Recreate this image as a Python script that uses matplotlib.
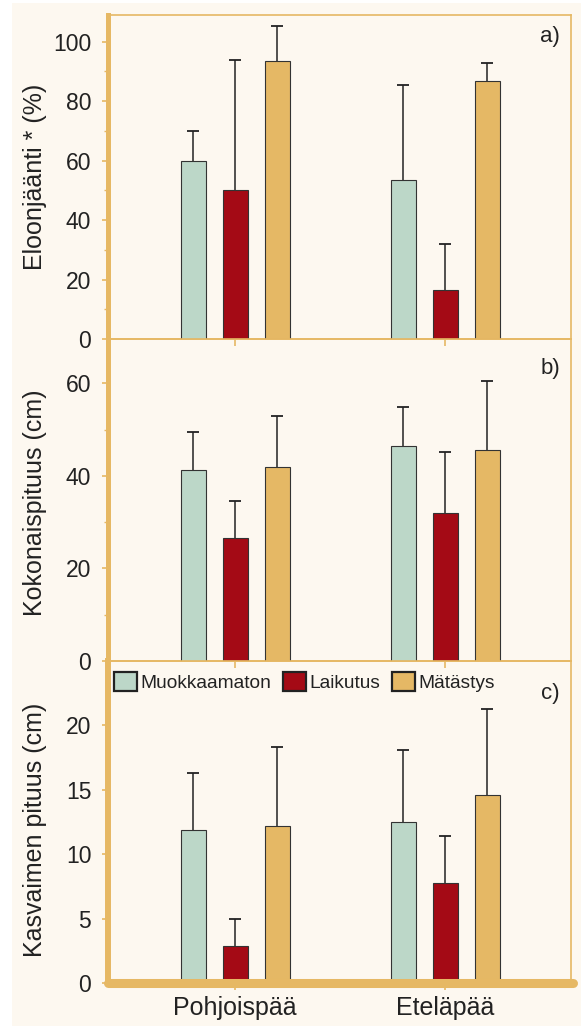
import matplotlib
matplotlib.use("Agg")
import matplotlib.pyplot as plt
import numpy as np
from matplotlib.patches import Rectangle
from matplotlib.ticker import MultipleLocator, FixedLocator

plt.rcParams['font.family'] = ['Liberation Sans', 'DejaVu Sans']

# ---------------- data ----------------
groups = ['Pohjoispää', 'Eteläpää']
treatments = ['Muokkaamaton', 'Laikutus', 'Mätästys']

# a) survival (%)
surv_muok = [60.0, 53.4]
surv_laik = [50.0, 16.6]
surv_mat = [93.5, 86.9]
surv_err_muok = [10.0, 32.1]
surv_err_laik = [43.8, 15.2]
surv_err_mat = [11.7, 5.9]

# b) total height (cm)
tot_muok = [41.3, 46.4]
tot_laik = [26.6, 32.0]
tot_mat = [41.9, 45.7]
tot_err_muok = [8.3, 8.6]
tot_err_laik = [8.0, 13.1]
tot_err_mat = [11.1, 14.9]

# c) shoot length (cm)
shoot_muok = [11.9, 12.5]
shoot_laik = [2.9, 7.8]
shoot_mat = [12.2, 14.6]
shoot_err_muok = [4.4, 5.6]
shoot_err_laik = [2.1, 3.6]
shoot_err_mat = [6.1, 6.7]

ylabels = ['Eloonjäänti * (%)', 'Kokonaispituus (cm)', 'Kasvaimen pituus (cm)']
panel_labels = ['a)', 'b)', 'c)']
yticks_a = [0, 20, 40, 60, 80, 100]
yticks_b = [0, 20, 40, 60]
yticks_c = [0, 5, 10, 15, 20]

# ---------------- style ----------------
BG = '#fdf8f0'
SPINE = '#e6b864'
COLORS = ['#bcd7c8', '#a40a15', '#e5b865']
EDGE = '#333333'
TXT = '#222222'

W, H = 581, 1026
fig = plt.figure(figsize=(W / 100, H / 100), dpi=100, facecolor='white')
fig.patches.append(Rectangle((12 / W, 0), 1 - 12 / W, 1 - 3 / H,
                             transform=fig.transFigure, facecolor=BG,
                             edgecolor='none', zorder=-10))

left = 108 / W
width = (571 - 108) / W
# (top_px, bottom_px)
panel_px = [(15, 339), (339, 661), (661, 983)]

data_sets = [
    ([surv_muok, surv_laik, surv_mat], [surv_err_muok, surv_err_laik, surv_err_mat]),
    ([tot_muok, tot_laik, tot_mat], [tot_err_muok, tot_err_laik, tot_err_mat]),
    ([shoot_muok, shoot_laik, shoot_mat], [shoot_err_muok, shoot_err_laik, shoot_err_mat]),
]
ylims = [(0, 109), (0, 69.6), (0, 25)]
yticks = [yticks_a, yticks_b, yticks_c]
minor = [10, 10, None]
label_pos = [(0.976, 0.965), (0.976, 0.94), (0.976, 0.932)]
ylabel_y = [0.5, 0.49, 0.475]

x = np.arange(len(groups))
offsets = [-0.2, 0.0, 0.2]
bw = 0.119

axes = []
for i, ((top, bot), (means, errs)) in enumerate(zip(panel_px, data_sets)):
    ax = fig.add_axes([left, 1 - bot / H, width, (bot - top) / H])
    ax.set_facecolor('none')
    axes.append(ax)
    for j, (m, e) in enumerate(zip(means, errs)):
        xs = x + offsets[j]
        ax.bar(xs, m, width=bw, color=COLORS[j], edgecolor=EDGE,
               linewidth=0.8, zorder=3, label=treatments[j])
        eb = ax.errorbar(xs, m, yerr=[np.zeros(len(e)), e], fmt='none',
                         ecolor='#222222', elinewidth=1.1, capsize=4.5,
                         capthick=1.3, zorder=2)
        caps = eb[1]
        if len(caps) >= 2:
            caps[0].set_visible(False)
    ax.set_xlim(-0.605, 1.6)
    ax.set_ylim(*ylims[i])
    ax.yaxis.set_major_locator(FixedLocator(yticks[i]))
    if minor[i]:
        ax.yaxis.set_minor_locator(MultipleLocator(minor[i]))
    ax.set_xticks(x)
    for s in ['top', 'right', 'bottom']:
        ax.spines[s].set_color(SPINE)
        ax.spines[s].set_linewidth(1.2)
    ax.spines['left'].set_color(SPINE)
    ax.spines['left'].set_linewidth(3.6 if i < 2 else 4.3)
    ax.tick_params(axis='y', which='major', direction='out', length=4,
                   width=1.2, color=SPINE, labelsize=16.5, labelcolor=TXT,
                   pad=8)
    ax.tick_params(axis='y', which='minor', direction='out', length=3,
                   width=1.0, color=SPINE)
    ax.tick_params(axis='x', direction='out', length=5, width=1.2,
                   color=SPINE, labelsize=18, labelcolor=TXT, pad=4.5)
    if i < 2:
        ax.tick_params(axis='x', labelbottom=False)
    else:
        ax.set_xticklabels(groups)
        ax.spines['bottom'].set_visible(False)
        ax.plot([0, 1.005], [0, 0], transform=ax.transAxes, color=SPINE,
                lw=6.5, solid_capstyle='round', clip_on=False, zorder=5)
    ax.set_ylabel(ylabels[i], fontsize=18, color=TXT, va='center')
    ax.yaxis.set_label_coords(-0.158, ylabel_y[i])
    ax.text(label_pos[i][0], label_pos[i][1], panel_labels[i],
            transform=ax.transAxes, ha='right', va='top', fontsize=16,
            color=TXT)

leg = axes[2].legend(loc='upper left', bbox_to_anchor=(0.012, 0.966),
                     ncol=3, frameon=False, fontsize=13.8,
                     handlelength=1.2, handleheight=1.15, handletextpad=0.2,
                     columnspacing=0.6, borderpad=0, borderaxespad=0)
for h in leg.legend_handles:
    h.set_edgecolor('#222222')
    h.set_linewidth(1.6)
for t in leg.get_texts():
    t.set_color(TXT)

fig.savefig('out.png', dpi=100, facecolor=fig.get_facecolor())
